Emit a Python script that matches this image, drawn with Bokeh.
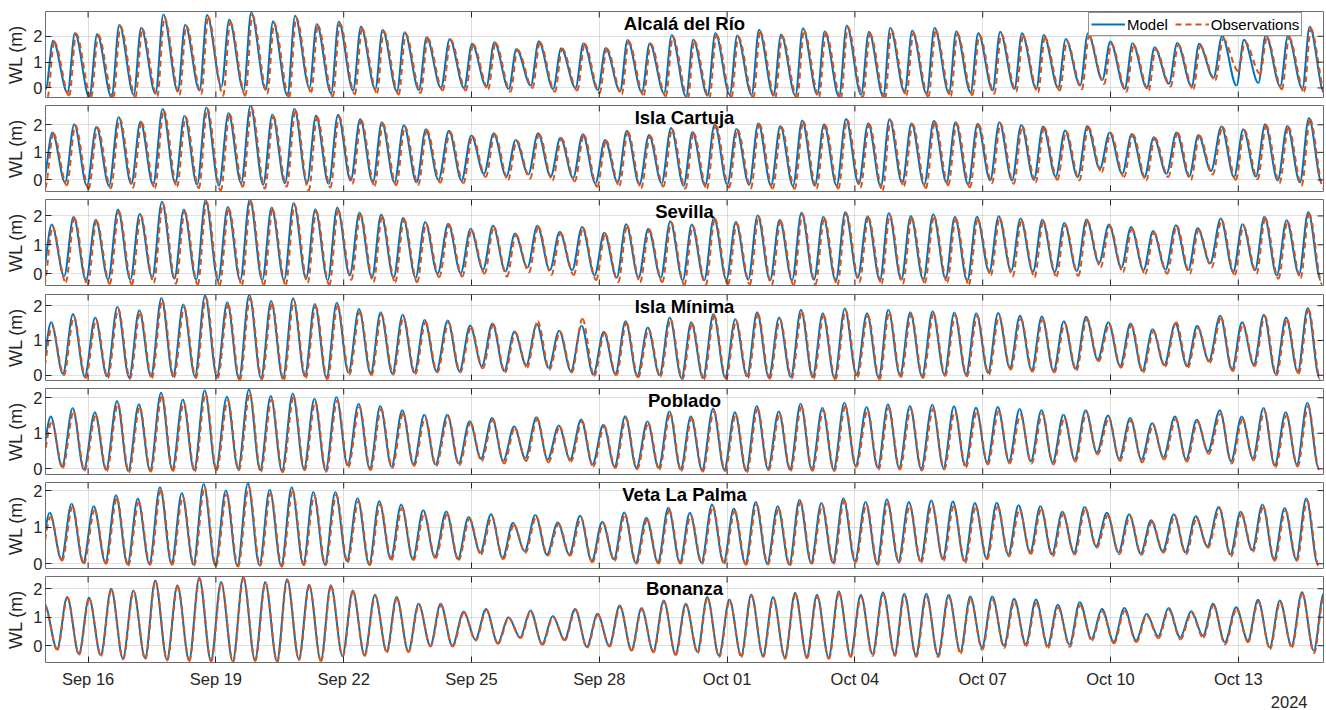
from datetime import datetime
import numpy as np
from bokeh.plotting import figure
from bokeh.layouts import column
from bokeh.models import (ColumnDataSource, Range1d, FixedTicker, DatetimeTickFormatter,
                          Label, Legend, LegendItem, Title)
from bokeh.embed import file_html
from bokeh.resources import INLINE

# ---------------- data ----------------
stations = ["Alcalá del Río", "Isla Cartuja", "Sevilla", "Isla Mínima",
            "Poblado", "Veta La Palma", "Bonanza"]
series_names = ["Model", "Observations"]
x_tick_dates = ["2024-09-16", "2024-09-19", "2024-09-22", "2024-09-25", "2024-09-28",
                "2024-10-01", "2024-10-04", "2024-10-07", "2024-10-10", "2024-10-13"]
y_ticks = [0, 1, 2]
year_label = "2024"
time_start = "2024-09-15"
time_end = "2024-10-15"

# high-water times at Bonanza, hours after Sep 15 00:00
hw_hours_bonanza = [12.2, 24.5, 37.0, 49.5, 61.8, 74.3, 86.6, 98.9, 111.4, 123.8,
                    136.1, 148.5, 160.7, 173.1, 185.6, 197.8, 210.2, 222.6, 235.6, 248.2,
                    260.8, 273.2, 285.8, 298.4, 311.0, 323.5, 335.8, 348.3, 360.7, 372.8,
                    385.3, 397.6, 409.9, 422.3, 434.6, 446.9, 459.3, 471.8, 483.8, 496.2,
                    508.8, 521.0, 533.4, 545.7, 558.0, 570.3, 582.7, 595.2, 607.8, 620.3,
                    632.7, 645.5, 657.8, 670.8, 683.1, 695.4, 707.9, 720.1]
# per station: offset of its high waters vs the Bonanza list, and HW->LW duration (h)
hw_lag_hours = [-7.9, -8.3, -8.7, -9.0, -9.2, -9.8, 0.0]
fall_hours = [8.1, 7.1, 7.0, 6.6, 6.3, 6.5, 6.6]
obs_hw_shift_hours = [0.6, 0.6, 0.5, 0.5, 0.5, 0.5, 0.15]
obs_lw_shift_hours = [1.0, 1.0, 0.9, 0.5, 0.4, 0.4, 0.15]
# Bonanza: high water just before the window start (hour, model, observed)
bonanza_lead_hw_hour = -0.5
bonanza_lead_model_hw = 1.45
bonanza_lead_obs_hw = 1.40

# ---- Alcalá del Río ----
alcala_model_hw = [1.83, 2.13, 2.09, 2.45, 2.33, 2.84, 2.45, 2.82, 2.65, 2.92, 2.58, 2.80, 2.48, 2.57, 2.38, 2.25, 2.16, 1.96,
                   1.90, 1.71, 1.77, 1.51, 1.81, 1.54, 1.73, 1.55, 1.86, 1.73, 2.05, 1.87, 2.13, 2.03, 2.25, 2.07, 2.31, 2.20, 2.42, 2.18,
                   2.33, 2.22, 2.33, 2.20, 2.13, 2.18, 2.12, 2.05, 1.90, 2.12, 1.80, 1.73, 1.58, 1.74, 1.71, 2.00, 1.87, 2.05, 2.03, 2.38]
alcala_model_lw = [-0.05,
                   -0.19, -0.36, -0.36, -0.26, -0.23, -0.13, -0.10, 0.05, -0.10, -0.08, -0.30, 0.00, -0.21, -0.10, -0.05, -0.13, -0.08, 0.00,
                   0.00, 0.05, -0.04, 0.09, -0.04, 0.00, -0.08, -0.13, -0.17, -0.21, -0.34, -0.30, -0.26, -0.26, -0.30, -0.30, -0.26, -0.34, -0.26,
                   -0.34, -0.17, -0.23, -0.21, -0.17, -0.10, -0.04, -0.04, 0.00, 0.09, 0.31, -0.04, 0.00, 0.16, 0.05, 0.39, 0.09, 0.19, 0.06, -0.04, -0.17]
alcala_obs_hw = [1.78, 2.10, 2.05, 2.38, 2.28, 2.72, 2.40, 2.75, 2.55, 2.82, 2.50, 2.72, 2.42, 2.50, 2.30, 2.20, 2.10, 1.92,
                 1.86, 1.68, 1.74, 1.48, 1.76, 1.52, 1.70, 1.52, 1.80, 1.70, 1.98, 1.82, 2.05, 1.98, 2.18, 2.00, 2.22, 2.12, 2.35, 2.10,
                 2.25, 2.12, 2.22, 2.10, 2.05, 2.08, 2.00, 1.95, 1.80, 2.00, 1.70, 1.65, 1.50, 1.66, 1.62, 1.90, 1.78, 1.95, 1.95, 2.30]
alcala_obs_lw = [-0.36,
                 -0.30, -0.36, -0.36, -0.36, -0.33, -0.28, -0.24, -0.30, -0.30, -0.22, -0.36, -0.18, -0.33, -0.25, -0.20, -0.26, -0.20, -0.10,
                 -0.10, -0.05, -0.15, 0.00, -0.15, -0.10, -0.20, -0.25, -0.28, -0.32, -0.40, -0.40, -0.36, -0.38, -0.40, -0.40, -0.36, -0.40, -0.36,
                 -0.42, -0.30, -0.35, -0.32, -0.28, -0.22, -0.15, -0.18, -0.10, -0.05, 0.15, -0.15, -0.10, 0.05, -0.05, 0.30, 0.65, 0.55, -0.05, -0.15, -0.30]

# ---- Isla Cartuja ----
cartuja_model_hw = [1.72, 2.02, 1.93, 2.28, 2.12, 2.58, 2.33, 2.63, 2.43, 2.70, 2.37, 2.58, 2.34, 2.36, 2.21, 2.09, 1.98, 1.84,
                    1.78, 1.61, 1.69, 1.45, 1.69, 1.53, 1.66, 1.45, 1.78, 1.63, 1.88, 1.74, 2.02, 1.85, 2.06, 1.96, 2.16, 2.02, 2.21, 2.06,
                    2.21, 2.06, 2.15, 2.10, 2.04, 2.09, 1.99, 1.94, 1.79, 1.96, 1.72, 1.67, 1.55, 1.72, 1.63, 1.94, 1.84, 2.02, 1.96, 2.25]
cartuja_model_lw = [-0.05,
                    -0.09, -0.21, -0.21, -0.15, -0.18, -0.12, -0.17, -0.21, -0.12, -0.18, -0.12, -0.12, -0.15, -0.02, -0.09, -0.09, -0.09, 0.00,
                    -0.02, 0.22, 0.12, 0.20, 0.12, 0.07, -0.12, -0.09, -0.17, -0.12, -0.21, -0.21, -0.17, -0.18, -0.21, -0.22, -0.21, -0.21, -0.15,
                    -0.25, -0.12, -0.18, -0.09, -0.17, -0.02, -0.02, 0.01, 0.12, 0.10, 0.40, 0.22, 0.10, 0.22, 0.12, 0.32, 0.10, 0.12, -0.02, -0.09, -0.09]
cartuja_obs_hw = [1.68, 1.98, 1.90, 2.22, 2.08, 2.52, 2.28, 2.58, 2.38, 2.62, 2.30, 2.52, 2.28, 2.30, 2.16, 2.04, 1.94, 1.80,
                  1.74, 1.58, 1.66, 1.42, 1.66, 1.50, 1.62, 1.42, 1.74, 1.60, 1.84, 1.70, 1.98, 1.82, 2.02, 1.92, 2.12, 1.98, 2.18, 2.02,
                  2.16, 2.02, 2.10, 2.05, 2.00, 2.04, 1.95, 1.90, 1.75, 1.92, 1.70, 1.65, 1.52, 1.70, 1.60, 1.92, 1.80, 1.98, 1.92, 2.20]
cartuja_obs_lw = [-0.30,
                  -0.20, -0.32, -0.30, -0.28, -0.30, -0.25, -0.30, -0.40, -0.25, -0.32, -0.25, -0.40, -0.28, -0.15, -0.22, -0.20, -0.18, -0.10,
                  -0.12, 0.10, 0.00, 0.05, -0.02, -0.05, -0.25, -0.22, -0.30, -0.25, -0.32, -0.32, -0.28, -0.30, -0.32, -0.33, -0.32, -0.32, -0.28,
                  -0.40, -0.22, -0.30, -0.20, -0.28, -0.12, -0.15, -0.10, 0.00, -0.02, 0.28, 0.10, -0.02, 0.10, 0.00, 0.20, 0.00, 0.02, -0.12, -0.20, -0.30]

# ---- Sevilla ----
sevilla_model_hw = [1.70, 1.97, 1.87, 2.22, 2.08, 2.49, 2.22, 2.54, 2.31, 2.58, 2.29, 2.45, 2.23, 2.29, 2.12, 2.05, 1.94, 1.79,
                    1.73, 1.56, 1.66, 1.39, 1.66, 1.45, 1.62, 1.42, 1.71, 1.56, 1.82, 1.70, 1.94, 1.79, 2.02, 1.87, 2.12, 1.97, 2.14, 1.99,
                    2.10, 2.00, 2.06, 1.97, 1.97, 1.99, 1.91, 1.87, 1.76, 1.88, 1.70, 1.62, 1.48, 1.68, 1.58, 1.91, 1.71, 1.97, 1.85, 2.14]
sevilla_model_lw = [-0.05,
                    -0.09, -0.23, -0.20, -0.21, -0.14, -0.18, -0.21, -0.23, -0.23, -0.23, -0.23, -0.17, -0.23, -0.06, -0.14, -0.14, -0.14, 0.00,
                    0.02, 0.14, 0.08, 0.21, 0.12, 0.12, -0.06, -0.14, -0.14, -0.14, -0.23, -0.23, -0.21, -0.21, -0.23, -0.23, -0.21, -0.25, -0.14,
                    -0.23, -0.21, -0.21, -0.17, -0.25, 0.06, 0.09, 0.06, 0.06, 0.09, 0.37, 0.21, 0.12, 0.14, 0.12, 0.35, 0.06, 0.12, -0.06, -0.02, -0.23]
sevilla_obs_hw = [1.62, 1.92, 1.82, 2.15, 2.02, 2.42, 2.15, 2.48, 2.25, 2.50, 2.22, 2.38, 2.15, 2.20, 2.05, 1.98, 1.88, 1.72,
                  1.68, 1.50, 1.62, 1.35, 1.62, 1.40, 1.58, 1.38, 1.66, 1.52, 1.78, 1.65, 1.90, 1.74, 1.98, 1.82, 2.06, 1.92, 2.08, 1.94,
                  2.02, 1.92, 1.98, 1.90, 1.88, 1.92, 1.84, 1.80, 1.68, 1.82, 1.65, 1.55, 1.42, 1.65, 1.52, 1.85, 1.65, 1.92, 1.80, 2.08]
sevilla_obs_lw = [-0.40,
                  -0.30, -0.40, -0.36, -0.38, -0.32, -0.35, -0.38, -0.40, -0.40, -0.40, -0.40, -0.32, -0.40, -0.22, -0.30, -0.30, -0.30, -0.12,
                  -0.10, 0.00, -0.10, 0.05, -0.05, -0.05, -0.22, -0.30, -0.30, -0.30, -0.40, -0.40, -0.38, -0.38, -0.40, -0.40, -0.38, -0.40, -0.30,
                  -0.35, -0.35, -0.32, -0.30, -0.38, -0.05, -0.10, -0.12, -0.10, -0.08, 0.22, 0.05, -0.02, 0.00, 0.00, 0.22, -0.05, 0.00, -0.18, -0.15, -0.38]

# ---- Isla Mínima ----
minima_model_hw = [1.52, 1.76, 1.66, 1.97, 1.87, 2.22, 2.03, 2.29, 2.10, 2.32, 2.13, 2.21, 2.05, 2.08, 1.90, 1.81, 1.74, 1.59,
                   1.57, 1.43, 1.49, 1.26, 1.47, 1.28, 1.42, 1.25, 1.55, 1.37, 1.66, 1.52, 1.76, 1.61, 1.81, 1.66, 1.88, 1.78, 1.92, 1.78,
                   1.88, 1.81, 1.84, 1.80, 1.78, 1.79, 1.71, 1.69, 1.55, 1.68, 1.52, 1.49, 1.32, 1.49, 1.42, 1.71, 1.52, 1.74, 1.66, 1.93]
minima_model_lw = [0.05,
                   0.04, -0.03, -0.03, -0.06, -0.03, -0.03, -0.03, -0.03, -0.10, -0.08, -0.10, -0.03, -0.08, 0.07, 0.04, 0.05, 0.07, 0.12,
                   0.12, 0.26, 0.12, 0.29, 0.21, 0.12, 0.02, 0.04, -0.03, 0.00, -0.08, -0.08, -0.06, -0.03, -0.06, -0.05, -0.06, -0.08, 0.00,
                   -0.08, 0.00, -0.03, 0.02, 0.02, 0.07, 0.21, 0.14, 0.12, 0.18, 0.45, 0.26, 0.12, 0.29, 0.26, 0.41, 0.16, 0.31, 0.04, 0.09, -0.08]
minima_obs_hw = [1.40, 1.68, 1.58, 1.90, 1.80, 2.15, 1.95, 2.22, 2.02, 2.22, 2.05, 2.12, 1.98, 2.00, 1.82, 1.74, 1.66, 1.52,
                 1.50, 1.38, 1.45, 1.22, 1.55, 1.25, 1.62, 1.22, 1.50, 1.32, 1.60, 1.48, 1.70, 1.56, 1.75, 1.60, 1.82, 1.72, 1.86, 1.72,
                 1.80, 1.74, 1.76, 1.72, 1.70, 1.70, 1.62, 1.60, 1.48, 1.62, 1.45, 1.44, 1.26, 1.52, 1.36, 1.66, 1.46, 1.70, 1.60, 1.88]
minima_obs_lw = [0.00,
                 0.00, -0.08, -0.08, -0.10, -0.08, -0.06, -0.08, -0.08, -0.14, -0.12, -0.14, -0.08, -0.12, 0.02, 0.00, 0.02, 0.03, 0.08,
                 0.08, 0.20, 0.08, 0.22, 0.16, 0.08, -0.02, 0.00, -0.06, -0.04, -0.12, -0.12, -0.10, -0.08, -0.10, -0.09, -0.10, -0.12, -0.05,
                 -0.12, -0.05, -0.08, -0.02, -0.03, 0.02, 0.16, 0.10, 0.08, 0.14, 0.40, 0.22, 0.08, 0.25, 0.22, 0.36, 0.12, 0.26, 0.00, 0.05, -0.12]

# ---- Poblado ----
poblado_model_hw = [1.47, 1.71, 1.59, 1.91, 1.82, 2.14, 1.95, 2.21, 2.03, 2.23, 2.05, 2.12, 1.97, 2.02, 1.83, 1.77, 1.65, 1.52,
                    1.52, 1.34, 1.43, 1.19, 1.45, 1.22, 1.39, 1.24, 1.48, 1.33, 1.61, 1.47, 1.70, 1.59, 1.77, 1.61, 1.83, 1.72, 1.86, 1.74,
                    1.82, 1.77, 1.80, 1.76, 1.72, 1.74, 1.68, 1.65, 1.52, 1.65, 1.50, 1.43, 1.28, 1.47, 1.38, 1.65, 1.47, 1.71, 1.59, 1.86]
poblado_model_lw = [0.10,
                    0.06, -0.02, -0.02, -0.06, -0.05, -0.02, -0.04, 0.00, 0.00, -0.04, -0.06, 0.00, -0.04, 0.09, 0.00, 0.06, 0.12, 0.12,
                    0.15, 0.28, 0.23, 0.30, 0.26, 0.26, 0.12, 0.06, 0.03, 0.03, -0.02, -0.04, -0.02, -0.06, 0.00, -0.02, -0.02, -0.02, 0.09,
                    0.03, 0.03, 0.00, 0.03, 0.09, 0.18, 0.21, 0.21, 0.18, 0.26, 0.46, 0.28, 0.26, 0.33, 0.26, 0.49, 0.21, 0.30, 0.09, 0.12, 0.03]
poblado_obs_hw = [1.32, 1.60, 1.50, 1.82, 1.72, 2.05, 1.85, 2.10, 1.92, 2.12, 1.95, 2.02, 1.88, 1.92, 1.74, 1.68, 1.56, 1.44,
                  1.45, 1.28, 1.38, 1.15, 1.40, 1.18, 1.34, 1.20, 1.42, 1.28, 1.55, 1.42, 1.62, 1.52, 1.68, 1.54, 1.74, 1.64, 1.76, 1.64,
                  1.72, 1.66, 1.68, 1.62, 1.60, 1.62, 1.52, 1.55, 1.42, 1.58, 1.42, 1.36, 1.22, 1.40, 1.32, 1.55, 1.40, 1.62, 1.50, 1.76]
poblado_obs_lw = [0.05,
                  0.02, -0.05, -0.06, -0.10, -0.08, -0.06, -0.08, -0.04, -0.04, -0.08, -0.10, -0.04, -0.08, 0.05, -0.04, 0.02, 0.08, 0.08,
                  0.10, 0.22, 0.15, 0.22, 0.18, 0.20, 0.06, 0.02, -0.01, -0.02, -0.06, -0.08, -0.06, -0.10, -0.04, -0.06, -0.06, -0.06, 0.05,
                  -0.02, -0.02, -0.05, -0.02, 0.04, 0.12, 0.15, 0.15, 0.12, 0.20, 0.40, 0.22, 0.18, 0.26, 0.20, 0.42, 0.15, 0.24, 0.04, 0.06, -0.02]

# ---- Veta La Palma ----
veta_model_hw = [1.39, 1.64, 1.57, 1.87, 1.78, 2.09, 1.93, 2.18, 2.00, 2.20, 2.02, 2.09, 1.96, 1.96, 1.79, 1.71, 1.62, 1.46,
                 1.43, 1.28, 1.35, 1.12, 1.33, 1.13, 1.31, 1.15, 1.40, 1.26, 1.53, 1.39, 1.62, 1.51, 1.69, 1.57, 1.75, 1.66, 1.79, 1.69,
                 1.76, 1.69, 1.73, 1.70, 1.66, 1.67, 1.60, 1.57, 1.42, 1.55, 1.39, 1.35, 1.19, 1.35, 1.30, 1.55, 1.42, 1.62, 1.52, 1.79]
veta_model_lw = [0.15,
                 0.12, 0.03, 0.04, -0.02, 0.00, 0.00, -0.02, -0.04, -0.06, -0.04, -0.06, -0.02, -0.02, 0.07, -0.02, 0.13, 0.13, 0.19,
                 0.13, 0.30, 0.16, 0.34, 0.25, 0.25, 0.07, 0.12, 0.03, 0.04, 0.03, 0.03, 0.03, 0.00, 0.01, -0.02, 0.03, 0.03, 0.07,
                 0.01, 0.07, 0.07, 0.13, 0.07, 0.16, 0.25, 0.31, 0.25, 0.30, 0.48, 0.31, 0.28, 0.34, 0.31, 0.48, 0.25, 0.37, 0.12, 0.12, -0.02]
veta_obs_hw = [1.28, 1.55, 1.46, 1.78, 1.68, 2.00, 1.82, 2.08, 1.90, 2.10, 1.92, 2.00, 1.86, 1.88, 1.70, 1.62, 1.52, 1.36,
               1.36, 1.22, 1.28, 1.06, 1.28, 1.08, 1.25, 1.10, 1.34, 1.20, 1.46, 1.32, 1.55, 1.44, 1.62, 1.50, 1.68, 1.60, 1.72, 1.62,
               1.66, 1.58, 1.62, 1.58, 1.55, 1.56, 1.48, 1.50, 1.35, 1.50, 1.32, 1.30, 1.15, 1.30, 1.24, 1.50, 1.35, 1.56, 1.45, 1.72]
veta_obs_lw = [0.12,
               0.08, 0.00, 0.00, -0.05, -0.03, -0.03, -0.05, -0.06, -0.08, -0.06, -0.08, -0.04, -0.04, 0.04, -0.04, 0.10, 0.10, 0.15,
               0.10, 0.26, 0.12, 0.30, 0.22, 0.22, 0.04, 0.08, 0.00, 0.00, 0.00, 0.00, 0.00, -0.03, -0.02, -0.05, 0.00, 0.00, 0.04,
               -0.03, 0.03, 0.03, 0.08, 0.03, 0.12, 0.20, 0.26, 0.20, 0.25, 0.44, 0.26, 0.24, 0.30, 0.26, 0.44, 0.20, 0.32, 0.08, 0.08, -0.05]

# ---- Bonanza ----
bonanza_model_hw = [1.71, 1.68, 2.00, 1.94, 2.29, 2.12, 2.39, 2.24, 2.41, 2.24, 2.33, 2.14, 2.12, 1.94, 1.79, 1.71, 1.47, 1.47,
                    1.20, 1.29, 1.00, 1.24, 1.04, 1.29, 1.12, 1.41, 1.32, 1.59, 1.47, 1.71, 1.62, 1.80, 1.71, 1.86, 1.79, 1.91, 1.79,
                    1.88, 1.82, 1.82, 1.79, 1.73, 1.73, 1.65, 1.62, 1.44, 1.53, 1.29, 1.32, 1.12, 1.32, 1.21, 1.47, 1.35, 1.61, 1.59, 1.88, 1.82]
bonanza_model_lw = [-0.12, -0.29, -0.33, -0.45, -0.44, -0.49, -0.51, -0.53, -0.55, -0.51, -0.55, -0.47, -0.53, -0.35, -0.33, -0.20, -0.20, 0.00,
                    0.00, 0.21, 0.09, 0.29, 0.06, 0.21, -0.04, 0.00, -0.15, -0.20, -0.29, -0.21, -0.35, -0.35, -0.35, -0.41, -0.39, -0.41, -0.35,
                    -0.29, -0.29, -0.33, -0.33, -0.21, -0.06, 0.00, 0.06, 0.00, 0.04, 0.24, 0.14, 0.18, 0.33, 0.29, 0.35, 0.12, 0.18, -0.06, 0.00, -0.18, -0.30]
bonanza_obs_hw = [1.68, 1.64, 1.96, 1.90, 2.26, 2.08, 2.36, 2.20, 2.38, 2.20, 2.30, 2.10, 2.08, 1.90, 1.75, 1.66, 1.43, 1.42,
                  1.16, 1.25, 0.97, 1.20, 1.00, 1.25, 1.08, 1.36, 1.28, 1.54, 1.42, 1.66, 1.57, 1.75, 1.66, 1.80, 1.72, 1.85, 1.72,
                  1.80, 1.74, 1.72, 1.70, 1.64, 1.62, 1.55, 1.50, 1.34, 1.42, 1.20, 1.22, 1.06, 1.25, 1.14, 1.40, 1.28, 1.54, 1.52, 1.82, 1.75]
bonanza_obs_lw = [-0.15, -0.32, -0.36, -0.48, -0.47, -0.52, -0.54, -0.56, -0.58, -0.54, -0.58, -0.50, -0.55, -0.38, -0.36, -0.23, -0.23, -0.03,
                  -0.03, 0.18, 0.06, 0.26, 0.03, 0.18, -0.07, -0.03, -0.18, -0.24, -0.33, -0.26, -0.40, -0.40, -0.40, -0.46, -0.44, -0.46, -0.40,
                  -0.36, -0.36, -0.40, -0.40, -0.28, -0.14, -0.08, -0.02, -0.08, -0.04, 0.18, 0.08, 0.12, 0.26, 0.22, 0.28, 0.05, 0.12, -0.12, -0.06, -0.26, -0.36]

model_hw = [alcala_model_hw, cartuja_model_hw, sevilla_model_hw, minima_model_hw, poblado_model_hw, veta_model_hw, bonanza_model_hw]
model_lw = [alcala_model_lw, cartuja_model_lw, sevilla_model_lw, minima_model_lw, poblado_model_lw, veta_model_lw, bonanza_model_lw]
obs_hw = [alcala_obs_hw, cartuja_obs_hw, sevilla_obs_hw, minima_obs_hw, poblado_obs_hw, veta_obs_hw, bonanza_obs_hw]
obs_lw = [alcala_obs_lw, cartuja_obs_lw, sevilla_obs_lw, minima_obs_lw, poblado_obs_lw, veta_obs_lw, bonanza_obs_lw]
lead_model = [None] * 6 + [(bonanza_lead_hw_hour, bonanza_lead_model_hw)]
lead_obs = [None] * 6 + [(bonanza_lead_hw_hour, bonanza_lead_obs_hw)]

# ---------------- styling ----------------
BLUE = "#0072BD"
ORANGE = "#D95319"
TXT = "#262626"
FONT = "Liberation Sans"
y_limits = [(-0.37, 2.96), (-0.42, 2.70), (-0.41, 2.57), (-0.15, 2.32),
            (-0.16, 2.26), (-0.13, 2.22), (-0.59, 2.43)]
FRAME_W, FRAME_H = 1278, 86
TICK_PX = 6
border_top = [11, 4, 4, 4, 4, 4, 4]
border_bottom = [4, 4, 5, 4, 4, 4, 44]

EPOCH = datetime(1970, 1, 1)


def to_ms(dt):
    return (dt - EPOCH).total_seconds() * 1000.0


t0_ms = to_ms(datetime.fromisoformat(time_start))
t1_ms = to_ms(datetime.fromisoformat(time_end))
tick_ms = [to_ms(datetime.fromisoformat(d)) for d in x_tick_dates]
HOUR = 3600.0 * 1000.0


def bezier_source(hw_h, hw_v, lw_h, lw_v, lead=None):
    t, v = [], []
    if lead is not None:
        t.append(lead[0])
        v.append(lead[1])
    t.append(lw_h[0])
    v.append(lw_v[0])
    for k in range(len(hw_h)):
        t += [hw_h[k], lw_h[k + 1]]
        v += [hw_v[k], lw_v[k + 1]]
    t = t0_ms + np.array(t) * HOUR
    v = np.array(v)
    dt = t[1:] - t[:-1]
    return ColumnDataSource(dict(x0=t[:-1], y0=v[:-1], x1=t[1:], y1=v[1:],
                                 cx0=t[:-1] + dt / 3.0, cy0=v[:-1],
                                 cx1=t[1:] - dt / 3.0, cy1=v[1:]))


def extrema_times(i, hw_shift, lw_shift):
    hw = np.array(hw_hours_bonanza) + hw_lag_hours[i]
    lw_after = hw + fall_hours[i]
    lw_first = hw[0] + fall_hours[i] - (hw[1] - hw[0])
    lw = np.concatenate([[lw_first], lw_after]) + lw_shift
    return hw + hw_shift, lw


figs = []
n = len(stations)
for i in range(n):
    last = (i == n - 1)
    ylo, yhi = y_limits[i]
    p = figure(x_axis_type="datetime", frame_width=FRAME_W, frame_height=FRAME_H,
               x_range=Range1d(t0_ms, t1_ms), y_range=Range1d(ylo, yhi),
               min_border_left=45, min_border_right=3,
               min_border_top=border_top[i], min_border_bottom=border_bottom[i],
               output_backend="svg", toolbar_location=None,
               background_fill_color="white", border_fill_color="white",
               outline_line_color="#6e6e6e", outline_line_width=1)

    # grid
    p.xgrid.ticker = FixedTicker(ticks=tick_ms)
    p.ygrid.ticker = FixedTicker(ticks=y_ticks)
    p.grid.grid_line_color = TXT
    p.grid.grid_line_alpha = 0.15
    p.grid.grid_line_width = 1

    # model
    hw_t, lw_t = extrema_times(i, 0.0, 0.0)
    rm = p.bezier(x0="x0", y0="y0", x1="x1", y1="y1", cx0="cx0", cy0="cy0", cx1="cx1", cy1="cy1",
                  source=bezier_source(hw_t, model_hw[i], lw_t, model_lw[i], lead_model[i]),
                  line_color=BLUE, line_width=2)
    # observations
    ohw_t, olw_t = extrema_times(i, obs_hw_shift_hours[i], obs_lw_shift_hours[i])
    ro = p.bezier(x0="x0", y0="y0", x1="x1", y1="y1", cx0="cx0", cy0="cy0", cx1="cx1", cy1="cy1",
                  source=bezier_source(ohw_t, obs_hw[i], olw_t, obs_lw[i], lead_obs[i]),
                  line_color=ORANGE, line_width=2, line_dash="6 4")

    # inward tick marks on the box (top, right, and bottom where there is no axis)
    ty = TICK_PX / FRAME_H * (yhi - ylo)
    tx = TICK_PX / FRAME_W * (t1_ms - t0_ms)
    p.segment(x0=tick_ms, y0=[yhi] * len(tick_ms), x1=tick_ms, y1=[yhi - ty] * len(tick_ms),
              line_color=TXT, line_width=1)
    p.segment(x0=[t1_ms] * len(y_ticks), y0=y_ticks, x1=[t1_ms - tx] * len(y_ticks), y1=y_ticks,
              line_color=TXT, line_width=1)
    if not last:
        p.segment(x0=tick_ms, y0=[ylo] * len(tick_ms), x1=tick_ms, y1=[ylo + ty] * len(tick_ms),
                  line_color=TXT, line_width=1)

    # x axis
    xa = p.xaxis[0]
    if last:
        xa.ticker = FixedTicker(ticks=tick_ms)
        xa.formatter = DatetimeTickFormatter(days="%b %d", months="%b %d", hours="%b %d")
        xa.major_tick_in = TICK_PX
        xa.major_tick_out = 0
        xa.minor_tick_in = 0
        xa.minor_tick_out = 0
        xa.major_tick_line_color = TXT
        xa.axis_line_color = None
        xa.major_label_text_font = FONT
        xa.major_label_text_font_size = "16.5px"
        xa.major_label_text_color = TXT
        xa.major_label_standoff = 7
    else:
        xa.visible = False

    # y axis
    ya = p.yaxis[0]
    ya.ticker = FixedTicker(ticks=y_ticks)
    ya.major_tick_in = TICK_PX
    ya.major_tick_out = 0
    ya.minor_tick_in = 0
    ya.minor_tick_out = 0
    ya.major_tick_line_color = TXT
    ya.axis_line_color = None
    ya.major_label_text_font = FONT
    ya.major_label_text_font_size = "16.5px"
    ya.major_label_text_color = TXT
    ya.major_label_standoff = 3
    ya.axis_label = "WL (m)"
    ya.axis_label_text_font = FONT
    ya.axis_label_text_font_size = "18px"
    ya.axis_label_text_font_style = "normal"
    ya.axis_label_text_color = TXT
    ya.axis_label_standoff = 4

    p.add_layout(Label(x=(t0_ms + t1_ms) / 2.0, y=yhi, text=stations[i],
                       text_align="center", text_baseline="top", y_offset=-1,
                       text_font=FONT, text_font_size="18.5px", text_font_style="bold",
                       text_color="#000000"))

    if i == 0:
        leg = Legend(items=[LegendItem(label=series_names[0], renderers=[rm]),
                            LegendItem(label=series_names[1], renderers=[ro])],
                     orientation="horizontal", location=(1043, 61),
                     label_text_font=FONT, label_text_font_size="15px", label_text_color="#000000",
                     border_line_color=TXT, border_line_width=1, background_fill_color="white",
                     background_fill_alpha=1.0, padding=2, spacing=7, margin=0,
                     glyph_width=34, glyph_height=18, label_height=18, label_standoff=2)
        p.add_layout(leg)

    if last:
        p.add_layout(Title(text=year_label, align="right", offset=16, standoff=6,
                           text_font=FONT, text_font_size="16.5px", text_font_style="normal",
                           text_color=TXT), "below")
    figs.append(p)

layout = column(*figs, spacing=0)
open("out.html", "w").write(file_html(layout, INLINE))
